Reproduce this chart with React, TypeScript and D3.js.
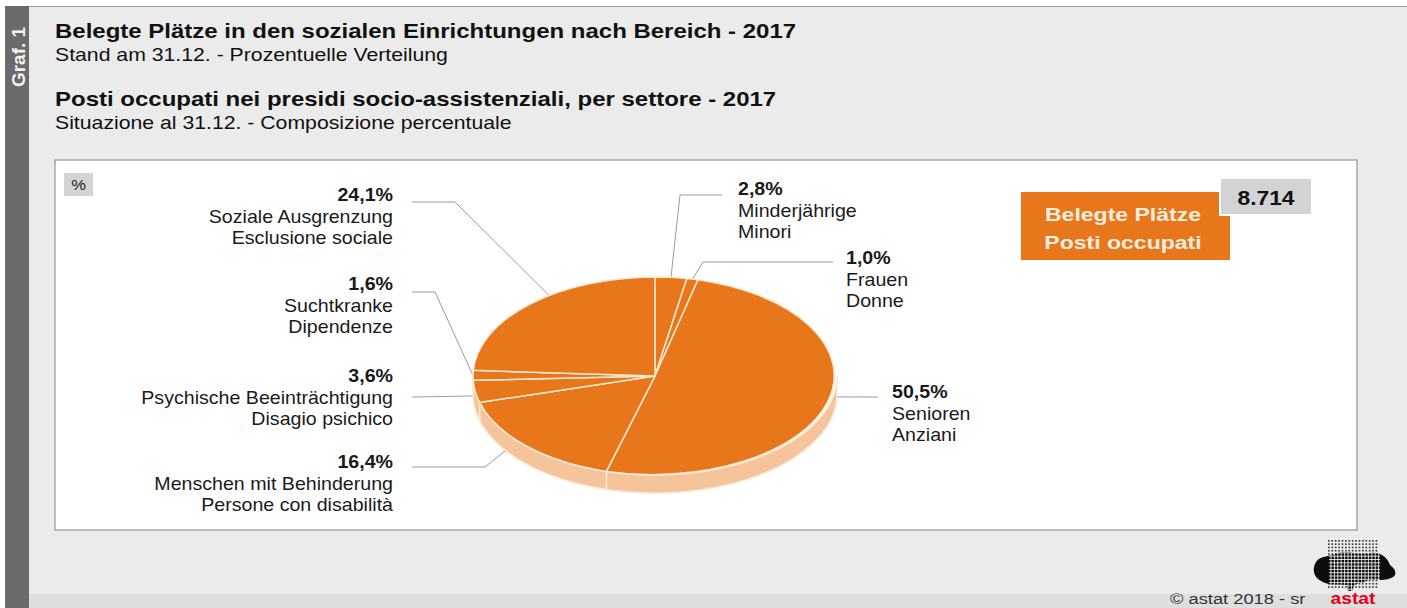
import React from 'react';
import * as d3 from 'd3';

// Bereich / settore (clockwise from 12 o'clock)
const labelsDe = ['Minderjährige', 'Frauen', 'Senioren', 'Menschen mit Behinderung', 'Psychische Beeinträchtigung', 'Suchtkranke', 'Soziale Ausgrenzung'];
const labelsIt = ['Minori', 'Donne', 'Anziani', 'Persone con disabilità', 'Disagio psichico', 'Dipendenze', 'Esclusione sociale'];
const shares = [2.8, 1.0, 50.5, 16.4, 3.6, 1.6, 24.1];
const totalPlaces = '8.714';

const W = 1407;
const H = 608;
const FONT = '"Liberation Sans", Arial, Helvetica, sans-serif';
const ORANGE = '#e8761a';
const SIDE = '#f5c49a';
const EDGE = '#fde8d4';
const LEADER = '#9a9a9a';

// pie geometry
const cx = 655;
const cy = 376;
const rx = 182;
const ry = 99;
const depth = 18;

// label layout: text anchor point, leader (t = position inside slice, dy = down the side wall), elbow and end
const labelLayout = [
  { x: 738, y: 195, anchor: 'start', t: 0.5, dy: 0, elbow: [680, 195], end: [722, 195] },
  { x: 846, y: 264, anchor: 'start', t: 0.5, dy: 0, elbow: [703, 262], end: [833, 262] },
  { x: 892, y: 398, anchor: 'start', t: 0.487, dy: 0, elbow: null, end: [878, 397] },
  { x: 393, y: 468, anchor: 'end', t: 0.66, dy: 16, elbow: [485, 467], end: [412, 467] },
  { x: 393, y: 382, anchor: 'end', t: 0.3, dy: 0, elbow: null, end: [412, 397] },
  { x: 393, y: 290, anchor: 'end', t: 0.5, dy: 0, elbow: [435, 292], end: [412, 292] },
  { x: 393, y: 201, anchor: 'end', t: 0.59, dy: 0, elbow: [455, 202], end: [412, 202] },
];

const fmt = (v: number) => d3.format('.1f')(v).replace('.', ',') + '%';

const onEllipse = (a: number): [number, number] => [cx + rx * Math.sin(a), cy - ry * Math.cos(a)];

// the original lettering is a bit wider than Arial, so stretch it horizontally
function T({ x, y, sx = 1, size, bold = false, anchor = 'start', fill = '#111', children }: any) {
  return (
    <text transform={`translate(${x},${y}) scale(${sx},1)`} textAnchor={anchor} fontSize={size} fontWeight={bold ? 'bold' : 'normal'} fill={fill}>
      {children}
    </text>
  );
}

function Logo() {
  // rough dotted map of the astat logo
  const dots: [number, number][] = [];
  for (let gx = 0; gx < 15; gx++) {
    for (let gy = 0; gy < 15; gy++) {
      dots.push([1328 + gx * 3.4, 540 + gy * 3.3]);
    }
  }
  const blob = 'M1316,562 C1320,555 1330,557 1338,553 C1348,550 1360,556 1370,553 C1380,551 1388,558 1390,565 C1396,569 1398,576 1391,578 C1383,582 1374,578 1366,581 C1360,584 1355,582 1353,588 L1352,591 L1348,591 L1347,585 C1338,584 1328,586 1321,581 C1313,577 1312,568 1316,562 Z';
  return (
    <g>
      <clipPath id="logo-clip">
        <path d={blob} />
      </clipPath>
      {dots.map(([x, y], i) => (
        <rect key={i} x={x} y={y} width={1.7} height={1.7} fill="#444" />
      ))}
      <path d={blob} fill="#0d0d0d" />
      <g clipPath="url(#logo-clip)" stroke="#ffffff" strokeWidth={0.8}>
        {d3.range(1331, 1380, 3.4).map((x) => (
          <line key={'v' + x} x1={x} y1={550} x2={x} y2={594} />
        ))}
        {d3.range(543, 594, 3.3).map((y) => (
          <line key={'h' + y} x1={1329} y1={y} x2={1380} y2={y} />
        ))}
      </g>
    </g>
  );
}

export default function App() {
  const pie = d3.pie<number>().sort(null).value((d) => d).startAngle(0).endAngle(2 * Math.PI);
  const arcs = pie(shares);
  const arc = d3.arc<d3.PieArcDatum<number>>().innerRadius(0).outerRadius(1);
  const line = d3.line();

  // side wall: only the front half (angles between 90° and 270°)
  const sidePath = (a0: number, a1: number) => {
    const lo = Math.max(a0, Math.PI / 2);
    const hi = Math.min(a1, (3 * Math.PI) / 2);
    if (hi <= lo) return null;
    const ts = d3.range(lo, hi, 0.01).concat([hi]);
    const top = ts.map(onEllipse);
    const bottom = ts.slice().reverse().map((t) => {
      const [x, y] = onEllipse(t);
      return [x, y + depth] as [number, number];
    });
    return line(top.concat(bottom)) + 'Z';
  };

  return (
    <svg width={W} height={H} style={{ position: 'absolute', left: 0, top: 0, display: 'block' }} fontFamily={FONT}>
      <rect x={0} y={0} width={W} height={H} fill="#ffffff" />
      <rect x={5} y={6} width={W - 5} height={H - 6} fill="#ebebeb" />
      <line x1={5} y1={6.5} x2={W} y2={6.5} stroke="#a0a0a0" />
      <rect x={29} y={594} width={W - 29} height={14} fill="#dedede" />

      {/* left bar */}
      <rect x={5} y={6} width={24} height={H - 6} fill="#6b6b6b" />
      <text transform="translate(25,57) rotate(-90)" textAnchor="middle" fill="#f2f2f2" fontWeight="bold" fontSize={19}>Graf. 1</text>

      {/* titles */}
      <T x={55} y={38} size={20} sx={1.2} bold>Belegte Plätze in den sozialen Einrichtungen nach Bereich - 2017</T>
      <T x={55} y={61} size={18} sx={1.18}>Stand am 31.12. - Prozentuelle Verteilung</T>
      <T x={55} y={106} size={20} sx={1.2} bold>Posti occupati nei presidi socio-assistenziali, per settore - 2017</T>
      <T x={55} y={129} size={18} sx={1.18}>Situazione al 31.12. - Composizione percentuale</T>

      {/* chart panel */}
      <rect x={55} y={160} width={1302} height={370} fill="#ffffff" stroke="#a6a6a6" strokeWidth={1.5} />
      <rect x={64} y={173} width={29} height={23} fill="#d3d3d3" />
      <T x={78.5} y={190} size={15} sx={1.1} anchor="middle" fill="#222">%</T>

      {/* leaders */}
      {arcs.map((a, i) => {
        const L = labelLayout[i];
        const t = a.startAngle + L.t * (a.endAngle - a.startAngle);
        const [ax, ay] = onEllipse(t);
        const pts: [number, number][] = [[ax, ay + L.dy]];
        if (L.elbow) pts.push(L.elbow as [number, number]);
        pts.push(L.end as [number, number]);
        return <path key={'l' + i} d={line(pts) || ''} fill="none" stroke={LEADER} strokeWidth={1} />;
      })}

      {/* pie side */}
      {arcs.map((a, i) => {
        const d = sidePath(a.startAngle, a.endAngle);
        return d ? <path key={'s' + i} d={d} fill={SIDE} stroke={EDGE} strokeWidth={1.5} /> : null;
      })}

      {/* pie top */}
      <g transform={`translate(${cx},${cy}) scale(${rx},${ry})`}>
        {arcs.map((a, i) => (
          <path key={'p' + i} d={arc(a) || ''} fill={ORANGE} stroke={EDGE} strokeWidth={1.5} vectorEffect="non-scaling-stroke" strokeLinejoin="round" />
        ))}
      </g>

      {/* labels */}
      {shares.map((v, i) => {
        const L = labelLayout[i];
        return (
          <g key={'t' + i}>
            <T x={L.x} y={L.y} size={18} sx={1.09} anchor={L.anchor} bold fill="#1a1a1a">{fmt(v)}</T>
            <T x={L.x} y={L.y + 21.5} size={18} sx={1.09} anchor={L.anchor} fill="#1a1a1a">{labelsDe[i]}</T>
            <T x={L.x} y={L.y + 43} size={18} sx={1.09} anchor={L.anchor} fill="#1a1a1a">{labelsIt[i]}</T>
          </g>
        );
      })}

      {/* total box */}
      <rect x={1021} y={192} width={209} height={68} fill={ORANGE} />
      <T x={1123} y={221} size={18} sx={1.28} anchor="middle" bold fill="#fdeee0">Belegte Plätze</T>
      <T x={1123} y={249} size={18} sx={1.28} anchor="middle" bold fill="#fdeee0">Posti occupati</T>
      <rect x={1220} y={178} width={92} height={37} fill="#d3d3d3" stroke="#ffffff" strokeWidth={2} />
      <T x={1266} y={205} size={20} sx={1.14} anchor="middle" bold fill="#111">{totalPlaces}</T>

      {/* footer */}
      <T x={1170} y={604} size={15} sx={1.22} fill="#333">©  astat 2018 - sr</T>
      <Logo />
      <T x={1353} y={604} size={16} sx={1.2} anchor="middle" bold fill="#e3001b">astat</T>
    </svg>
  );
}
